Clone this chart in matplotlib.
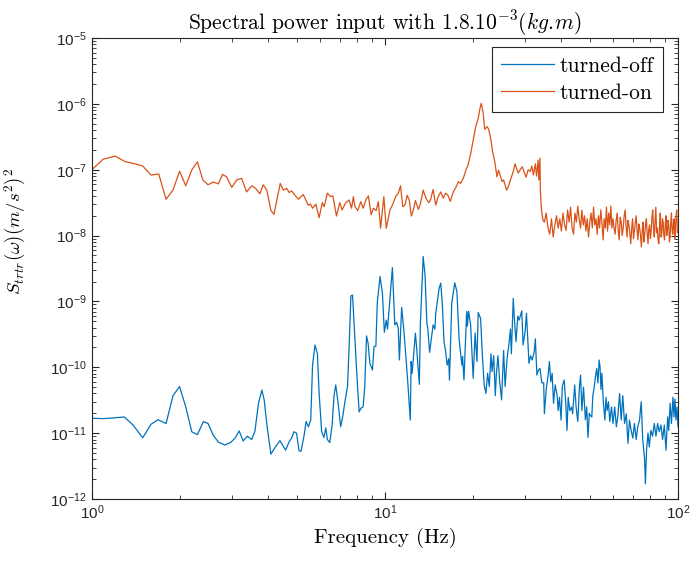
import matplotlib
matplotlib.use("Agg")
import matplotlib.pyplot as plt
from matplotlib.ticker import LogLocator, NullFormatter

# colours (MATLAB default order)
off_col = "#0072BD"
on_col = "#D95319"
axis_col = (0.15, 0.15, 0.15)

# turned-off, 1-10 Hz
off_f_low = [1.0, 1.09, 1.18, 1.29, 1.38, 1.49, 1.59, 1.68, 1.79, 1.89,
             1.99, 2.09, 2.19, 2.29, 2.40, 2.49, 2.59, 2.70, 2.84, 2.97,
             3.08, 3.18, 3.28, 3.39, 3.51, 3.60, 3.70, 3.80, 3.87, 3.96,
             4.08, 4.21, 4.38, 4.58, 4.71, 4.80, 4.89, 4.99, 5.09, 5.17,
             5.30, 5.38, 5.48, 5.58, 5.66, 5.77, 5.88, 5.96, 6.08, 6.19,
             6.28, 6.36, 6.48, 6.60, 6.70, 6.79, 6.92, 7.06, 7.17, 7.30,
             7.45, 7.55, 7.65, 7.75, 7.90, 8.0, 8.16, 8.28, 8.42, 8.53,
             8.65, 8.76, 8.88, 9.06, 9.18, 9.31, 9.41, 9.62, 9.80, 9.95]
off_v_low = [1.68e-11, 1.66e-11, 1.7e-11, 1.76e-11, 1.33e-11, 8.5e-12, 1.36e-11, 1.6e-11, 1.4e-11, 3.7e-11,
             5.1e-11, 2.5e-11, 1.05e-11, 9.5e-12, 1.5e-11, 1.4e-11, 9.4e-12, 7.3e-12, 6.6e-12, 7.2e-12,
             8.4e-12, 1.08e-11, 7.6e-12, 9.0e-12, 8.0e-12, 1.08e-11, 2.84e-11, 4.5e-11, 3.2e-11, 1.25e-11,
             4.8e-12, 6.0e-12, 7.7e-12, 5.5e-12, 7.4e-12, 8.4e-12, 1.05e-11, 1.0e-11, 5.4e-12, 5.3e-12,
             9.4e-12, 1.5e-11, 1.25e-11, 1.6e-11, 1.08e-10, 2.18e-10, 1.6e-10, 4.0e-11, 1.05e-11, 8.6e-12,
             1.2e-11, 8.0e-12, 7.2e-12, 1.33e-11, 3.7e-11, 5.4e-11, 2.84e-11, 1.25e-11, 1.76e-11, 3.0e-11,
             5.1e-11, 2.3e-10, 1.21e-9, 1.25e-9, 2.6e-10, 9.1e-11, 2.1e-11, 2.4e-11, 2.5e-11, 5.1e-11,
             3.0e-10, 2.3e-10, 1.15e-10, 9.1e-11, 2.06e-10, 2.1e-10, 9.4e-10, 2.4e-9, 1.33e-9, 3.4e-10]

# turned-off, 10-50 Hz
off_f_mid = [10.1, 10.2, 10.4, 10.6, 10.8, 10.96, 11.1, 11.2, 11.4, 11.6,
             11.8, 12.0, 12.2, 12.28, 12.38, 12.7, 12.8, 13.1, 13.2, 13.5,
             13.7, 13.9, 14.0, 14.2, 14.4, 14.6, 14.8, 14.9, 15.3, 15.5,
             15.7, 15.9, 16.1, 16.3, 16.5, 16.6, 16.9, 17.3, 17.6, 17.9,
             18.3, 18.4, 18.6, 19.0, 19.1, 19.3, 19.6, 20.0, 20.3, 20.6,
             20.8, 21.2, 21.5, 21.8, 22.1, 22.4, 22.7, 23.0, 23.2, 23.5,
             23.8, 24.0, 24.3, 24.6, 25.0, 25.4, 25.7, 26.1, 26.5, 26.8,
             27.0, 27.4, 27.6, 28.0, 28.4, 28.7, 29.3, 29.6, 30.1, 30.4,
             31.0, 31.4, 31.8, 32.3, 32.6, 33.0, 33.4, 33.8, 34.3, 34.8,
             35.0, 35.5, 36.0, 36.4, 36.8, 37.2, 37.6, 38.1, 38.7, 39.0,
             39.4, 39.9, 40.3, 40.9, 41.4, 41.8, 42.2, 42.7, 43.3, 43.7,
             44.4, 44.9, 45.5, 46.1, 46.5, 47.0, 47.6, 48.3, 48.8, 49.3, 49.8]
off_v_mid = [5.2e-10, 3.8e-10, 1.11e-9, 3.25e-9, 4.4e-10, 4.8e-10, 3.9e-10, 1.29e-10, 8.1e-10, 3.6e-10,
             1.35e-10, 4.8e-11, 1.58e-11, 1.22e-10, 8.1e-11, 3.3e-10, 2.18e-10, 5.5e-11, 4.4e-10, 4.8e-9,
             2.5e-9, 4.6e-10, 3.9e-10, 1.69e-10, 2.7e-10, 4.4e-10, 3.8e-10, 6.6e-10, 1.58e-9, 1.9e-9,
             8.8e-10, 2.45e-10, 1.75e-10, 1.08e-10, 1.35e-10, 6.4e-11, 9.4e-10, 1.92e-9, 1.41e-9, 2.7e-10,
             1.08e-10, 1.45e-10, 6.4e-11, 7.0e-10, 4.2e-10, 7.1e-10, 4.4e-10, 6.8e-11, 3.3e-10, 1.22e-10,
             6.8e-10, 5.5e-10, 1.5e-10, 5.4e-11, 4.0e-11, 8.1e-11, 5.1e-11, 1.6e-10, 8.6e-11, 1.5e-10,
             3.7e-11, 8.1e-11, 1.5e-10, 6.4e-11, 3.2e-11, 1.8e-10, 5.1e-11, 1.35e-10, 2.3e-10, 3.8e-10,
             1.6e-10, 1.11e-9, 6.0e-10, 2.45e-10, 6.0e-10, 5.2e-10, 7.2e-10, 2.18e-10, 3.6e-10, 6.6e-10,
             1.15e-10, 1.5e-10, 1.29e-10, 1.7e-10, 2.7e-10, 7.6e-11, 9.1e-11, 9.6e-11, 5.8e-11, 5.8e-11,
             1.97e-11, 4.6e-11, 7.3e-11, 1.22e-10, 6.0e-11, 8.1e-11, 2.84e-11, 5.4e-11, 3.7e-11, 2.2e-11,
             3.5e-11, 1.58e-11, 5.2e-11, 6.4e-11, 2.84e-11, 1.1e-11, 3.5e-11, 2.2e-11, 2.5e-11, 1.97e-11,
             5.4e-11, 2.5e-11, 1.5e-11, 5.1e-11, 7.6e-11, 2.2e-11, 5.0e-11, 1.6e-11, 2.5e-11, 8.6e-12, 2.0e-11]

# turned-off, 50-100 Hz
off_f_high = [50.1, 50.8, 51.2, 51.7, 52.3, 52.8, 53.3, 53.8, 54.2, 54.6,
              55.0, 55.6, 56.3, 56.8, 57.3, 57.9, 58.5, 59.3, 60.0, 60.8,
              61.6, 62.3, 63.2, 64.0, 64.8, 65.7, 66.6, 67.5, 68.3, 69.2,
              70.1, 71.0, 72.0, 72.9, 73.9, 74.9, 75.8, 76.9, 77.4, 78.1,
              79.0, 79.8, 80.8, 81.9, 83.0, 84.1, 85.2, 86.3, 87.5, 88.6,
              89.8, 91.0, 92.2, 93.0, 94.0, 95.0, 96.1, 96.9, 97.6, 98.4,
              99.2, 100.0]
off_v_high = [1.87e-11, 1.76e-11, 3.7e-11, 4.8e-11, 7.3e-11, 9.6e-11, 5.8e-11, 1.29e-10, 1.0e-10, 4.6e-11,
              8.1e-11, 3.0e-11, 1.58e-11, 3.5e-11, 2.2e-11, 3.0e-11, 1.5e-11, 2.5e-11, 1.4e-11, 2.5e-11,
              1.25e-11, 1.76e-11, 4.0e-11, 1.58e-11, 3.7e-11, 1.4e-11, 1.97e-11, 7.0e-12, 1.58e-11, 1.1e-11,
              8.4e-12, 1.4e-11, 8.0e-12, 1.25e-11, 1.58e-11, 3.0e-11, 8.0e-12, 4.1e-12, 1.7e-12, 5.5e-12,
              1.0e-11, 6.2e-12, 1.1e-11, 9.0e-12, 1.4e-11, 9.0e-12, 1.4e-11, 1.05e-11, 1.33e-11, 8.0e-12,
              1.33e-11, 5.5e-12, 1.76e-11, 1.1e-11, 2.84e-11, 1.4e-11, 3.5e-11, 1.76e-11, 3.3e-11, 1.58e-11,
              2.5e-11, 1.25e-11]

# turned-on, 1-10 Hz
on_f_low = [1.0, 1.09, 1.2, 1.3, 1.38, 1.49, 1.59, 1.69, 1.79, 1.89,
            1.99, 2.09, 2.19, 2.29, 2.39, 2.49, 2.59, 2.70, 2.79, 2.88,
            3.0, 3.12, 3.24, 3.37, 3.51, 3.62, 3.74, 3.84, 3.95, 4.08,
            4.18, 4.39, 4.50, 4.62, 4.71, 4.80, 5.06, 5.26, 5.47, 5.57,
            5.66, 5.81, 5.96, 6.11, 6.2, 6.36, 6.52, 6.64, 6.83, 7.01,
            7.14, 7.33, 7.54, 7.69, 7.80, 7.90, 8.07, 8.27, 8.43, 8.62,
            8.78, 8.97, 9.13, 9.33, 9.49, 9.66, 9.91]
on_v_low = [1.0e-7, 1.44e-7, 1.61e-7, 1.32e-7, 1.25e-7, 1.14e-7, 8.3e-8, 8.6e-8, 3.56e-8, 4.9e-8,
            9.5e-8, 5.7e-8, 9.9e-8, 1.32e-7, 7.0e-8, 5.9e-8, 6.5e-8, 6.1e-8, 8.5e-8, 7.8e-8,
            5.4e-8, 7.0e-8, 7.4e-8, 4.6e-8, 5.7e-8, 5.2e-8, 4.3e-8, 5.9e-8, 4.9e-8, 2.4e-8,
            2.1e-8, 6.2e-8, 4.9e-8, 5.2e-8, 4.5e-8, 4.75e-8, 3.56e-8, 4.2e-8, 2.9e-8, 3.0e-8,
            2.6e-8, 3.0e-8, 1.87e-8, 3.16e-8, 2.75e-8, 4.4e-8, 3.9e-8, 4.0e-8, 1.98e-8, 3.16e-8,
            2.45e-8, 3.1e-8, 3.47e-8, 2.6e-8, 3.9e-8, 2.75e-8, 2.4e-8, 3.27e-8, 2.6e-8, 3.56e-8,
            4.0e-8, 2.06e-8, 2.6e-8, 2.4e-8, 3.27e-8, 1.29e-8, 3.9e-8]

# turned-on, 10-35 Hz (resonance near 21 Hz)
on_f_mid = [10.1, 10.4, 10.6, 10.9, 11.1, 11.3, 11.5, 11.7, 11.9, 12.1,
            12.3, 12.5, 12.7, 13.0, 13.2, 13.5, 13.8, 14.1, 14.3, 14.6,
            14.9, 15.2, 15.5, 15.8, 16.1, 16.4, 16.7, 17.1, 17.5, 17.8,
            18.1, 18.5, 18.9, 19.2, 19.6, 20.0, 20.4, 20.8, 21.1, 21.3,
            21.6, 21.9, 22.3, 22.6, 23.0, 23.3, 23.7, 24.1, 24.4, 24.7,
            25.1, 25.4, 26.0, 26.3, 26.8, 27.3, 27.8, 28.1, 28.5, 28.9,
            29.4, 29.8, 30.3, 30.8, 31.3, 31.7, 32.1, 32.6, 32.9, 33.3,
            33.5, 33.8, 33.9, 34.2, 34.6]
on_v_mid = [1.29e-8, 2.45e-8, 2.9e-8, 4.0e-8, 4.4e-8, 5.7e-8, 2.75e-8, 2.9e-8, 4.1e-8, 3.47e-8,
            1.98e-8, 2.45e-8, 3.4e-8, 2.5e-8, 3.0e-8, 4.9e-8, 3.7e-8, 3.16e-8, 3.47e-8, 5.0e-8,
            2.9e-8, 3.9e-8, 4.6e-8, 3.7e-8, 4.4e-8, 4.1e-8, 3.3e-8, 4.6e-8, 5.5e-8, 6.6e-8,
            6.2e-8, 7.4e-8, 9.9e-8, 1.17e-7, 1.73e-7, 2.8e-7, 4.5e-7, 6.0e-7, 8.6e-7, 1.02e-6,
            7.6e-7, 4.1e-7, 4.5e-7, 4.1e-7, 2.8e-7, 1.88e-7, 1.32e-7, 7.8e-8, 9.9e-8, 8.3e-8,
            6.6e-8, 7.0e-8, 4.9e-8, 5.4e-8, 7.0e-8, 8.9e-8, 1.23e-7, 1.05e-7, 8.9e-8, 9.9e-8,
            1.11e-7, 9.4e-8, 7.7e-8, 1.0e-7, 9.4e-8, 1.14e-7, 8.3e-8, 1.23e-7, 8.0e-8, 1.4e-7,
            7.0e-8, 1.5e-7, 4.9e-8, 2.45e-8, 1.73e-8]

# turned-on, 35-60 Hz
on_f_high1 = [35.0, 35.5, 36.0, 36.5, 37.0, 37.5, 38.0, 38.5, 39.0, 39.5,
              40.0, 40.5, 41.0, 41.5, 42.0, 42.5, 43.0, 43.5, 44.0, 44.5,
              45.0, 45.5, 46.0, 46.5, 47.0, 47.5, 48.0, 48.5, 49.0, 49.5,
              50.0, 50.5, 51.0, 51.5, 52.0, 52.5, 53.0, 53.5, 54.0, 54.5,
              55.0, 55.5, 56.0, 56.5, 57.0, 57.5, 58.0, 58.5, 59.0, 59.5, 60.0]
on_v_high1 = [1.6e-8, 2.2e-8, 1.3e-8, 1.05e-8, 1.8e-8, 9.5e-9, 1.45e-8, 2.0e-8, 1.3e-8, 1.8e-8,
              1.17e-8, 2.2e-8, 1.45e-8, 1.2e-8, 2.45e-8, 1.6e-8, 2.7e-8, 1.3e-8, 1.05e-8, 2.2e-8,
              1.6e-8, 2.8e-8, 1.8e-8, 1.3e-8, 2.45e-8, 1.45e-8, 2.0e-8, 1.17e-8, 1.8e-8, 9.5e-9,
              1.6e-8, 2.2e-8, 1.3e-8, 2.7e-8, 1.45e-8, 1.8e-8, 1.05e-8, 2.0e-8, 1.3e-8, 2.45e-8,
              1.6e-8, 8.6e-9, 1.8e-8, 1.3e-8, 2.7e-8, 1.17e-8, 2.2e-8, 1.45e-8, 2.8e-8, 1.3e-8, 1.8e-8]

# turned-on, 60-100 Hz
on_f_high2 = [60.5, 61.0, 61.5, 62.0, 62.5, 63.0, 63.5, 64.0, 64.5, 65.0,
              65.5, 66.0, 66.5, 67.0, 67.5, 68.0, 68.5, 69.0, 69.5, 70.0,
              70.5, 71.0, 71.5, 72.0, 72.5, 73.0, 73.5, 74.0, 74.5, 75.0,
              75.5, 76.0, 76.5, 77.0, 77.5, 78.0, 78.5, 79.0, 79.5, 80.0,
              80.5, 81.0, 81.5, 82.0, 82.5, 83.0, 83.5, 84.0, 84.5, 85.0,
              85.5, 86.0, 86.5, 87.0, 87.5, 88.0, 88.5, 89.0, 89.5, 90.0,
              90.5, 91.0, 91.5, 92.0, 92.5, 93.0, 93.5, 94.0, 94.5, 95.0,
              95.5, 96.0, 96.5, 97.0, 97.5, 98.0, 98.5, 99.0, 99.5, 100.0]
on_v_high2 = [1.3e-8, 1.05e-8, 1.7e-8, 2.2e-8, 1.2e-8, 8.6e-9, 1.9e-8, 1.6e-8, 1.0e-8, 1.3e-8,
              2.0e-8, 2.45e-8, 1.4e-8, 9.5e-9, 1.7e-8, 1.45e-8, 1.1e-8, 7.5e-9, 1.3e-8, 1.8e-8,
              9.0e-9, 1.17e-8, 1.6e-8, 2.0e-8, 1.2e-8, 8.6e-9, 1.5e-8, 1.3e-8, 1.0e-8, 6.7e-9,
              1.2e-8, 1.6e-8, 8.0e-9, 1.05e-8, 1.45e-8, 1.8e-8, 1.1e-8, 7.5e-9, 1.25e-8, 1.45e-8,
              9.0e-9, 1.17e-8, 1.9e-8, 2.45e-8, 1.3e-8, 9.5e-9, 1.6e-8, 2.7e-8, 1.1e-8, 1.3e-8,
              8.6e-9, 7.5e-9, 1.4e-8, 2.2e-8, 9.5e-9, 1.05e-8, 1.8e-8, 1.6e-8, 1.0e-8, 8.6e-9,
              1.5e-8, 2.0e-8, 1.0e-8, 1.17e-8, 1.7e-8, 1.45e-8, 8.0e-9, 9.5e-9, 1.6e-8, 2.2e-8,
              1.2e-8, 1.05e-8, 1.5e-8, 1.8e-8, 9.0e-9, 1.3e-8, 2.0e-8, 2.45e-8, 1.1e-8, 1.17e-8]

# axis decades
x_ticks = [1, 10, 100]
y_ticks = [1e-12, 1e-11, 1e-10, 1e-9, 1e-8, 1e-7, 1e-6, 1e-5]

off_f = off_f_low + off_f_mid + off_f_high
off_v = off_v_low + off_v_mid + off_v_high
on_f = on_f_low + on_f_mid + on_f_high1 + on_f_high2
on_v = on_v_low + on_v_mid + on_v_high1 + on_v_high2

plt.rcParams["font.family"] = "Liberation Sans"
plt.rcParams["mathtext.fontset"] = "cm"
plt.rcParams["axes.unicode_minus"] = False
plt.rcParams["axes.formatter.use_mathtext"] = True

fig = plt.figure(figsize=(6.9, 5.63), dpi=100)
ax = fig.add_axes([0.1333, 0.1137, 0.8493, 0.8188])

ax.loglog(off_f, off_v, color=off_col, lw=0.9, label="turned-off")
ax.loglog(on_f, on_v, color=on_col, lw=0.9, label="turned-on")

ax.set_xlim(x_ticks[0], x_ticks[-1])
ax.set_ylim(y_ticks[0], y_ticks[-1])
ax.set_xticks(x_ticks)
ax.set_yticks(y_ticks)
ax.yaxis.set_minor_locator(LogLocator(base=10, subs=range(2, 10), numticks=20))
ax.yaxis.set_minor_formatter(NullFormatter())
ax.xaxis.set_minor_formatter(NullFormatter())

ax.tick_params(which="both", direction="in", top=True, right=True,
               colors=axis_col, labelsize=11)
ax.tick_params(which="major", length=5, width=0.8)
ax.tick_params(which="minor", length=3, width=0.6)
for s in ax.spines.values():
    s.set_color(axis_col)
    s.set_linewidth(0.8)

ax.set_title(r"Spectral power input with $1.8.10^{-3}(kg.\!m)$",
             family="cmr10", fontsize=15.5, pad=4)
ax.set_xlabel("Frequency (Hz)", family="cmr10", fontsize=15)
ax.set_ylabel(r"$S_{trtr}(\omega)(m/s^2)^2$", fontsize=13.5, labelpad=8)
ax.yaxis.set_label_coords(-0.11, 0.58)

leg = ax.legend(loc="upper right", bbox_to_anchor=(0.9744, 0.9805),
                borderaxespad=0, prop={"family": "cmr10", "size": 15.5},
                fancybox=False, framealpha=1, edgecolor=axis_col,
                handlelength=2.46, handletextpad=0.25, borderpad=0.42,
                labelspacing=0.36)
leg.get_frame().set_linewidth(0.8)

fig.savefig("out.png", dpi=100)
